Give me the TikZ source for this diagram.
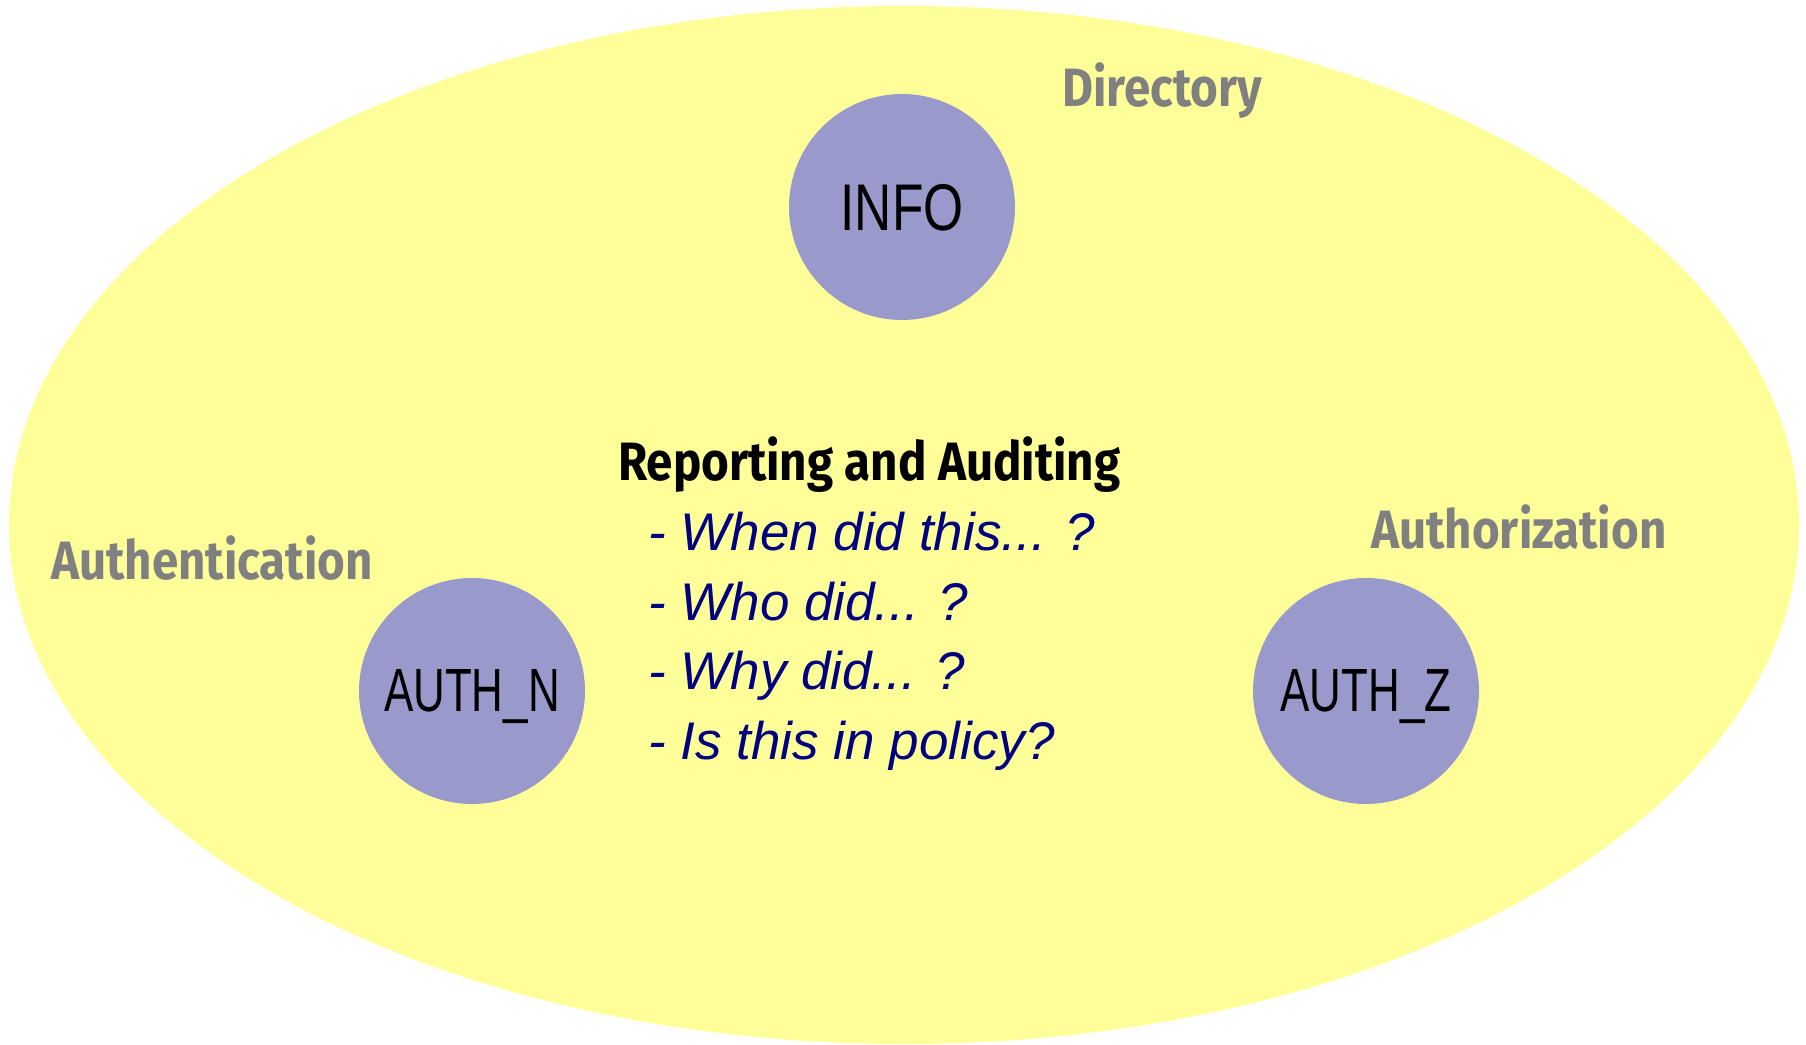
\documentclass[tikz,border=0pt]{standalone}
\usepackage{fontspec}
\setmainfont{Liberation Sans}
\newfontfamily\labelfont[FakeStretch=0.88]{Fira Sans}
\newfontfamily\narrowfont[FakeStretch=0.72]{Liberation Sans}
\newfontfamily\infofont[FakeStretch=0.78]{Liberation Sans}
\usetikzlibrary{positioning,shapes.geometric}
\definecolor{dirYellow}{HTML}{FFFF99}
\definecolor{nodeLilac}{HTML}{9999CC}
\definecolor{labelGray}{HTML}{808080}
\definecolor{askNavy}{HTML}{000080}
\newcommand{\threedots}{.{}.{}.}

\begin{document}
\begin{tikzpicture}[
                x=1pt, y=-1pt,
                service/.style={circle, fill=nodeLilac, minimum size=226pt, inner sep=0pt, text depth=0pt},
                area/.style={anchor=base west, text=labelGray, inner sep=0pt, font=\labelfont\bfseries\fontsize{54}{60}\selectfont},
                ask/.style={anchor=base west, text=askNavy, inner sep=0pt, font=\itshape\fontsize{53}{60}\selectfont}
            ]
                \useasboundingbox (0,0) rectangle (1806,1044);
                \node[ellipse, fill=dirYellow, minimum width=1790pt, minimum height=1038pt, inner sep=0pt] (dir) at (904,525) {};

                \node[service, font=\infofont\fontsize{66}{70}\selectfont] (info) at (902,207) {INFO};
                \node[service, font=\narrowfont\fontsize{61}{70}\selectfont] (authn) at (472,691) {AUTH\_N};
                \node[service, font=\narrowfont\fontsize{61}{70}\selectfont] (authz) at (1366,691) {AUTH\_Z};

                \node[area] (dirlabel) at (1062,106) {Directory};
                \node[area] (authnlabel) at (51,579) {Authentication};
                \node[area] (authzlabel) at (1371,548) {Authorization};

                \node[area, text=black] (report) at (618,480) {Reporting and Auditing};
                \foreach \q [count=\i from 0] in {{- When did this\threedots{} ?}, {- Who did\threedots{} ?}, {- Why did\threedots{} ?}, {- Is this in policy?}}
                    \node[ask] (q\i) at (648,550.6+69.6*\i) {\q};
            \end{tikzpicture}
\end{document}
